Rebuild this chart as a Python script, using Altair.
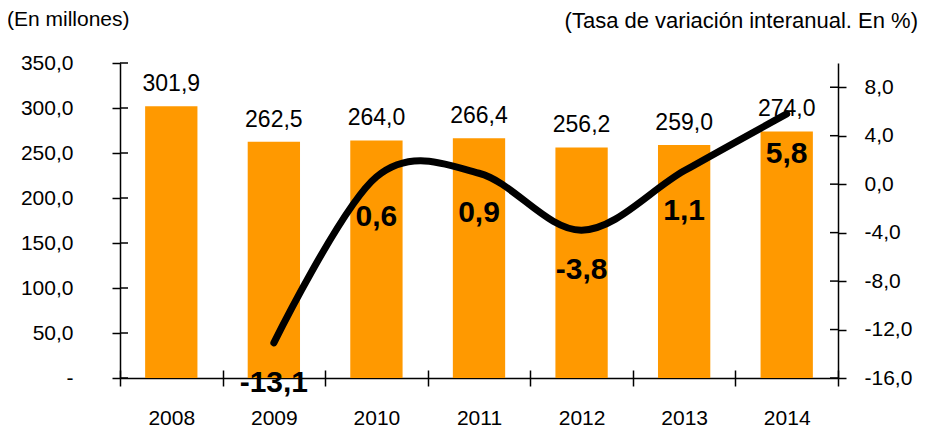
import altair as alt
import pandas as pd

years = ["2008", "2009", "2010", "2011", "2012", "2013", "2014"]
totals = [301.9, 262.5, 264.0, 266.4, 256.2, 259.0, 274.0]
rate_years = ["2009", "2010", "2011", "2012", "2013", "2014"]
rates = [-13.1, 0.6, 0.9, -3.8, 1.1, 5.8]
left_ticks = [0, 50, 100, 150, 200, 250, 300, 350]
right_ticks = [-16, -12, -8, -4, 0, 4, 8]
left_title = "(En millones)"
right_title = "(Tasa de variación interanual. En %)"


def es(v):
    return f"{v:.1f}".replace(".", ",")


bars_df = pd.DataFrame({"year": years, "total": totals, "label": [es(v) for v in totals]})
rate_df = pd.DataFrame({"year": rate_years, "rate": rates, "label": [es(v) for v in rates]})

FONT = "Liberation Sans"
AX = dict(labelFont=FONT, labelFontSize=21, labelColor="black", domainColor="black",
          tickColor="black", domainWidth=1.5, tickWidth=1.5, tickSize=8, grid=False, title=None)

# bands fill the whole step so that ticks fall between categories; bars are narrowed instead
x_scale = alt.Scale(paddingInner=0, paddingOuter=0)
x_main = alt.X("year:N", sort=years, title=None, scale=x_scale,
               axis=alt.Axis(orient="bottom", labelAngle=0, tickBand="extent", labelPadding=21, **AX))
x_plain = alt.X("year:N", sort=years, title=None, scale=x_scale, axis=None)
# second x axis drawing the inner half of the crossing ticks
x_inner = alt.X("year:N", sort=years, title=None, scale=x_scale,
                axis=alt.Axis(orient="bottom", tickBand="extent", labels=False, domain=False, offset=-8,
                              tickColor="black", tickWidth=1.5, tickSize=8, grid=False, title=None))

left_scale = alt.Scale(domain=[0, 350], nice=False, zero=True)
right_scale = alt.Scale(domain=[-16, 10], nice=False, zero=False)

left_axis = alt.Axis(orient="left", values=left_ticks, labelPadding=39,
                     labelExpr="datum.value == 0 ? '-' : replace(replace(format(datum.value, '.1f'), '.', ','), '\u2212', '-')",
                     **AX)
right_axis = alt.Axis(orient="right", values=right_ticks, labelPadding=18,
                      labelExpr="replace(replace(format(datum.value, '.1f'), '.', ','), '\u2212', '-')",
                      **AX)

bars = alt.Chart(bars_df).mark_bar(color="#FF9900", width=alt.RelativeBandSize(0.51)).encode(
    x=x_main, y=alt.Y("total:Q", scale=left_scale, axis=left_axis)
)
inner_x = alt.Chart(bars_df).mark_bar(opacity=0).encode(
    x=x_inner, y=alt.Y("total:Q", scale=left_scale, axis=None)
)
bar_text = alt.Chart(bars_df).mark_text(
    font=FONT, fontSize=23, baseline="alphabetic", dy=-15, color="black"
).encode(x=x_plain, y=alt.Y("total:Q", scale=left_scale, axis=None), text="label:N")

inner_left = alt.Chart(pd.DataFrame({"v": left_ticks})).mark_rule(
    color="black", strokeWidth=1.5
).encode(y=alt.Y("v:Q", scale=left_scale, axis=None), x=alt.value(0), x2=alt.value(8))

t1 = alt.Chart(pd.DataFrame({"t": [left_title]})).mark_text(
    font=FONT, fontSize=21, align="left", baseline="middle", color="black"
).encode(x=alt.value(-113), y=alt.value(-43), text="t:N")
t2 = alt.Chart(pd.DataFrame({"t": [right_title]})).mark_text(
    font=FONT, fontSize=22, align="right", baseline="middle", color="black"
).encode(x=alt.value(798), y=alt.value(-42), text="t:N")

line = alt.Chart(rate_df).mark_line(
    color="black", strokeWidth=7, interpolate="cardinal", strokeCap="round"
).encode(x=x_plain, y=alt.Y("rate:Q", scale=right_scale, axis=right_axis))
line_text = alt.Chart(rate_df).mark_text(
    font=FONT, fontSize=30, fontWeight="bold", baseline="middle", dy=40, color="black"
).encode(x=x_plain, y=alt.Y("rate:Q", scale=right_scale, axis=None), text="label:N")
inner_right = alt.Chart(pd.DataFrame({"v": right_ticks})).mark_rule(
    color="black", strokeWidth=1.5
).encode(y=alt.Y("v:Q", scale=right_scale, axis=None), x=alt.value(710), x2=alt.value(718))

chart = alt.layer(
    bars, inner_x, bar_text, inner_left, line, line_text, inner_right, t1, t2
).resolve_scale(y="independent").resolve_axis(x="independent").properties(
    width=718, height=315,
    padding={"left": 112, "top": 55, "right": 81, "bottom": 53},
    autosize=alt.AutoSizeParams(type="none"),
).configure_view(stroke=None)

chart.save("out.html", embed_options={"renderer": "svg", "actions": False})
